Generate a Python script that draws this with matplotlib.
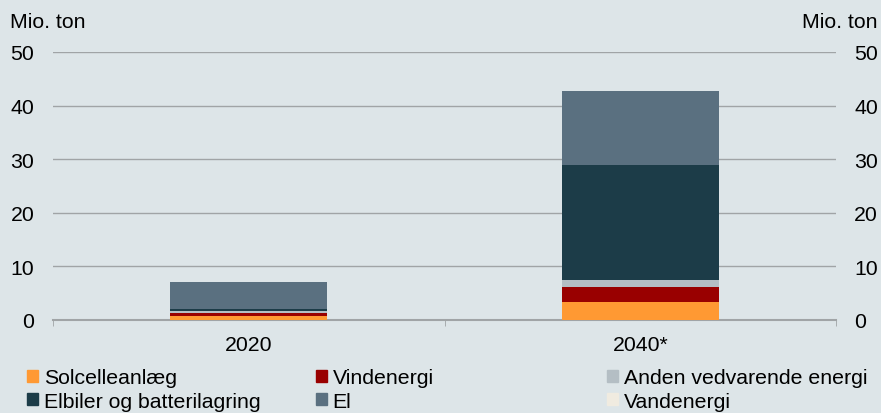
import matplotlib.pyplot as plt
from matplotlib.patches import Patch

plt.rcParams['font.family'] = ['Liberation Sans', 'DejaVu Sans']

# Data (mio. ton)
years = ['2020', '2040*']
series = ['Solcelleanlæg', 'Vindenergi', 'Anden vedvarende energi',
          'Elbiler og batterilagring', 'El', 'Vandenergi']
solcelle = [0.7, 3.3]
vind = [0.55, 2.9]
anden = [0.35, 1.3]
elbiler = [0.4, 21.4]
el = [5.1, 13.8]
vand = [0.0, 0.0]
values = [solcelle, vind, anden, elbiler, el, vand]
colors = ['#FF9933', '#990000', '#B4BEC4', '#1C3C48', '#5A7080', '#F0EBE0']

bg = '#DDE5E8'
fs = 15.3
fig = plt.figure(figsize=(8.81, 4.14), dpi=100, facecolor=bg)
ax = fig.add_axes([53/881, 1-321/414, (836-53)/881, (321-53)/414], facecolor=bg)

x = range(len(years))
bottom = [0, 0]
for name, vals, col in zip(series, values, colors):
    ax.bar(x, vals, width=0.4, bottom=bottom, color=col, label=name, zorder=3)
    bottom = [b + v for b, v in zip(bottom, vals)]

ax.set_xlim(-0.5, 1.5)
ax.set_ylim(0, 50)
ax.set_yticks(range(0, 51, 10))
ax.grid(axis='y', color='#A0A4A6', linewidth=1, zorder=0)
ax.set_axisbelow(True)
for s in ['top', 'right', 'left']:
    ax.spines[s].set_visible(False)
ax.spines['bottom'].set_color('#A0A4A6')
ax.spines['bottom'].set_linewidth(1.5)

ax.set_xticks([0, 1])
ax.set_xticklabels(years, fontsize=fs)
ax.set_xticks([-0.5, 0.5, 1.5], minor=True)
ax.tick_params(axis='x', which='major', length=0, pad=11)
ax.tick_params(axis='x', which='minor', length=4, color='#A0A4A6', direction='out')
ax.tick_params(axis='y', length=0, labelsize=fs, pad=13.5)

ax2 = ax.twinx()
ax2.set_ylim(0, 50)
ax2.set_yticks(range(0, 51, 10))
ax2.tick_params(axis='y', length=0, labelsize=fs, pad=13)
for s in ax2.spines.values():
    s.set_visible(False)

fig.text(10/881, 1-23/414, 'Mio. ton', fontsize=fs, va='center', ha='left')
fig.text(877/881, 1-23/414, 'Mio. ton', fontsize=fs, va='center', ha='right')

# legend: three columns of two entries
handles = [Patch(color=c, label=n) for n, c in zip(series, colors)]
col_x = [27, 316, 607]
for i, cx in enumerate(col_x):
    leg = fig.legend([handles[i], handles[i + 3]], [series[i], series[i + 3]],
                     loc='center left', bbox_to_anchor=(cx/881, 1-390.5/414),
                     frameon=False, fontsize=fs, handlelength=0.53,
                     handleheight=0.53, handletextpad=0.25, labelspacing=0.2,
                     borderpad=0, borderaxespad=0)

fig.savefig('out.png', dpi=100, facecolor=bg)
